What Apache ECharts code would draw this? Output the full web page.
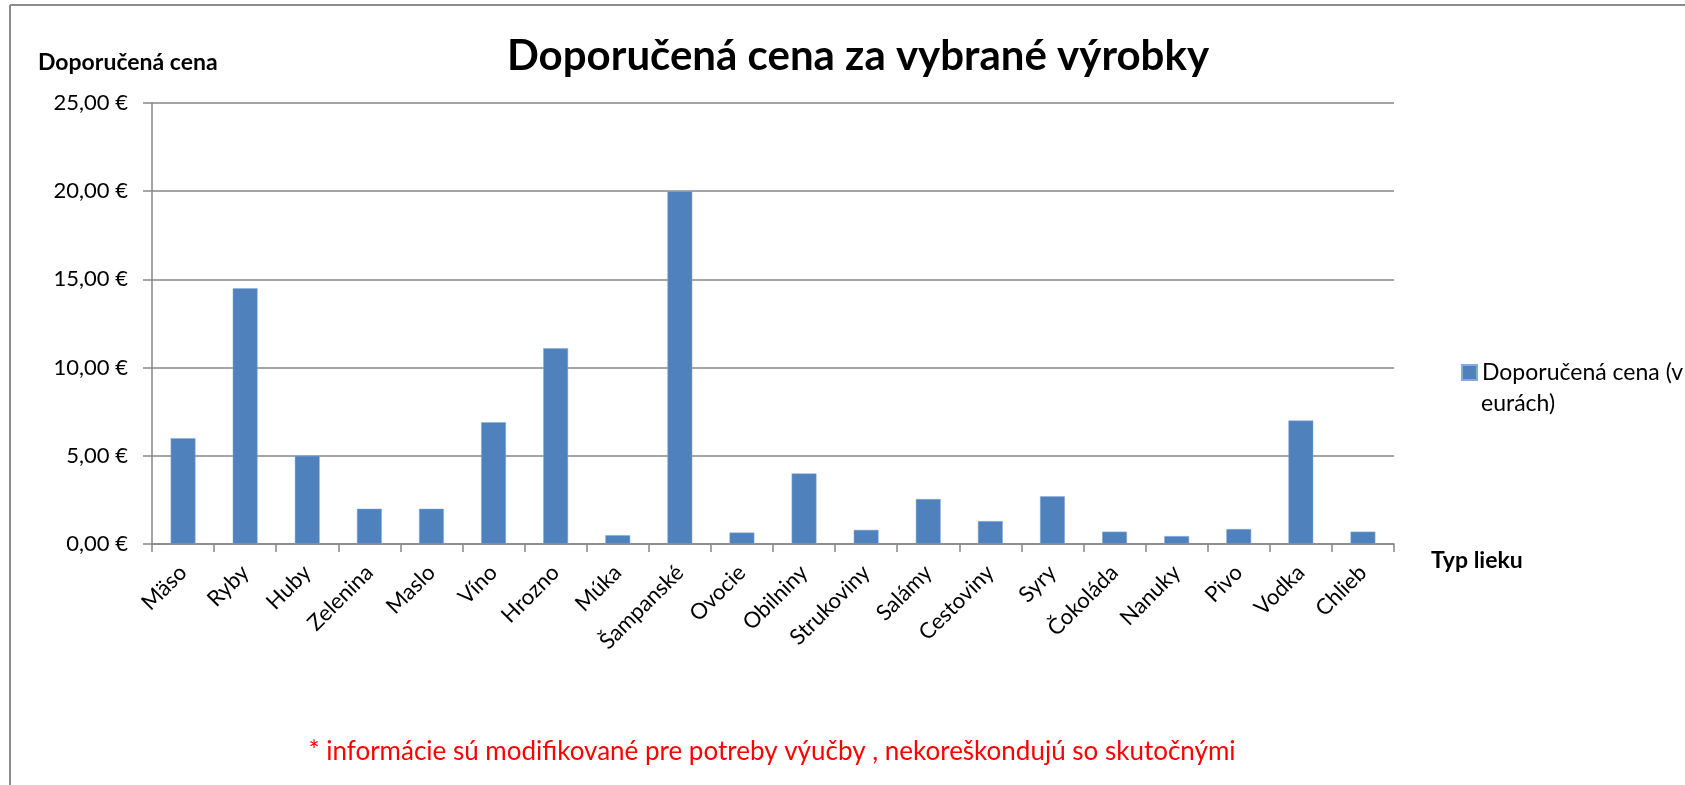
<!DOCTYPE html>
<html>
<head>
<meta charset="utf-8">
<script src="https://cdn.jsdelivr.net/npm/echarts@6/dist/echarts.min.js"></script>
<style>
  html, body { margin: 0; padding: 0; background: #fff; }
  #chart { width: 1685px; height: 785px; }
</style>
</head>
<body>
<div id="chart"></div>
<script>
var products = ['Mäso', 'Ryby', 'Huby', 'Zelenina', 'Maslo', 'Víno', 'Hrozno', 'Múka', 'Šampanské', 'Ovocie',
    'Obilniny', 'Strukoviny', 'Salámy', 'Cestoviny', 'Syry', 'Čokoláda', 'Nanuky', 'Pivo', 'Vodka', 'Chlieb'];
var prices = [6, 14.5, 5, 2, 2, 6.9, 11.1, 0.5, 20, 0.65,
    4, 0.8, 2.55, 1.3, 2.7, 0.7, 0.45, 0.85, 7, 0.7];
var seriesName = 'Doporučená cena (v eurách)';

var font = 'Lato, "Open Sans", sans-serif';
var chart = echarts.init(document.getElementById('chart'));

chart.setOption({
    animation: false,
    textStyle: { fontFamily: font },
    grid: { left: 152, right: 291, top: 103, bottom: 241, containLabel: false },
    legend: {
        left: 1456,
        top: 356,
        itemWidth: 15,
        itemHeight: 15,
        icon: 'rect',
        // second half of the name is drawn as its own line below
        formatter: function () { return 'Doporučená cena (v'; },
        textStyle: { fontSize: 23, color: '#000', fontFamily: font }
    },
    graphic: [
        // chart frame (top and left edges only are visible)
        {
            type: 'line', silent: true,
            shape: { x1: 10, y1: 5, x2: 1685, y2: 5 },
            style: { stroke: '#8c8c8c', lineWidth: 2 }
        },
        {
            type: 'line', silent: true,
            shape: { x1: 10, y1: 5, x2: 10, y2: 785 },
            style: { stroke: '#8c8c8c', lineWidth: 2 }
        },
        {
            type: 'text', x: 858, y: 56,
            style: { text: 'Doporučená cena za vybrané výrobky', font: 'bold 42px ' + font, fill: '#000', textAlign: 'center', textVerticalAlign: 'middle' }
        },
        {
            type: 'text', x: 38, y: 63,
            style: { text: 'Doporučená cena', font: 'bold 23px ' + font, fill: '#000', textVerticalAlign: 'middle' }
        },
        {
            type: 'text', x: 1431, y: 561,
            style: { text: 'Typ lieku', font: 'bold 23px ' + font, fill: '#000', textVerticalAlign: 'middle' }
        },
        {
            type: 'text', x: 1481, y: 404,
            style: { text: 'eurách)', font: '23px ' + font, fill: '#000', textVerticalAlign: 'middle' }
        },
        {
            type: 'text', x: 772, y: 752,
            style: { text: '* informácie sú modifikované pre potreby výučby , nekoreškondujú so skutočnými', font: '26px ' + font, fill: '#ff0000', textAlign: 'center', textVerticalAlign: 'middle' }
        }
    ],
    xAxis: {
        type: 'category',
        data: products,
        axisLine: { lineStyle: { color: '#868686', width: 1.5 } },
        axisTick: { show: true, length: 8, lineStyle: { color: '#868686', width: 1.5 } },
        axisLabel: { rotate: 45, fontSize: 22, color: '#000', margin: 25, padding: [18, 0, 0, 0], interval: 0 }
    },
    yAxis: {
        type: 'value',
        min: 0,
        max: 25,
        interval: 5,
        axisLine: { show: true, lineStyle: { color: '#868686', width: 1.5 } },
        axisTick: { show: true, length: 9, lineStyle: { color: '#868686', width: 1.5 } },
        splitLine: { lineStyle: { color: '#868686', width: 1.5 } },
        axisLabel: {
            fontSize: 22, color: '#000', margin: 24,
            formatter: function (v) { return v.toFixed(2).replace('.', ',') + ' €'; }
        }
    },
    series: [{
        name: seriesName,
        type: 'bar',
        data: prices,
        barWidth: '40%',
        itemStyle: { color: '#4F81BD', borderColor: '#8AAAD6', borderWidth: 0.5 }
    }]
});
</script>
</body>
</html>
